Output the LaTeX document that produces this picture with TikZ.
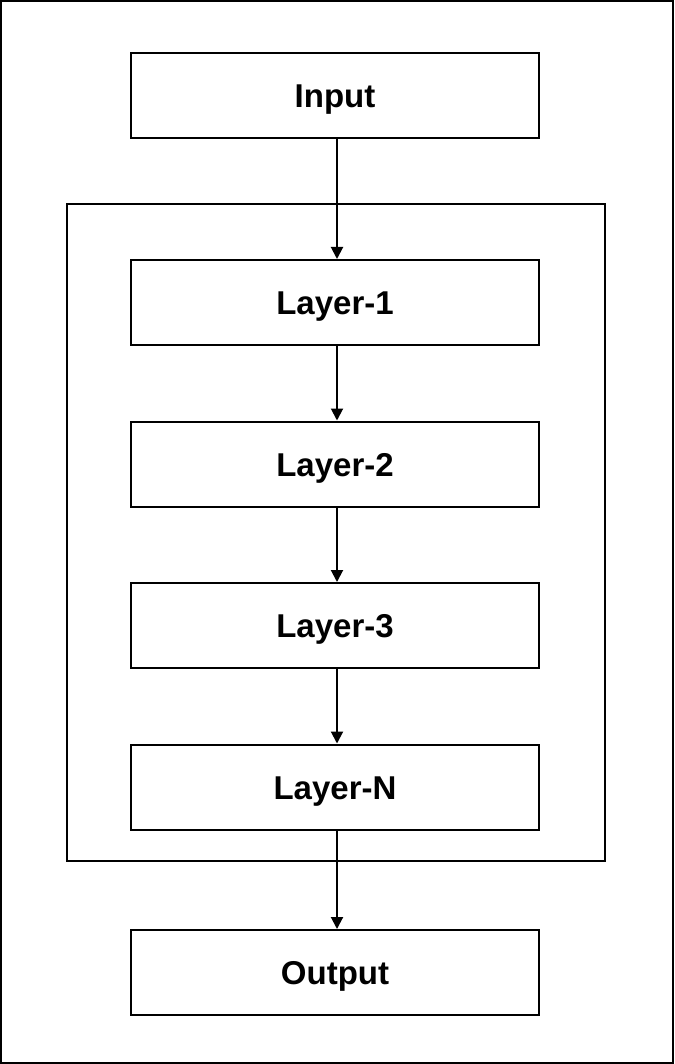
\documentclass[tikz,border=0pt]{standalone}
\usepackage{fontspec}
\setmainfont{Liberation Sans}
\usetikzlibrary{positioning,arrows.meta}

\begin{document}
\begin{tikzpicture}[
  x=1pt, y=-1pt,
  font=\bfseries\fontsize{33}{36}\selectfont,
  blk/.style   = {draw, line width=2pt, minimum width=408pt,
                  minimum height=85pt, inner sep=0pt,
                  text height=24pt, text depth=0pt},
  frame/.style = {draw, line width=2pt},
  flow/.style  = {-{Triangle[length=12pt,width=12pt]}, line width=2pt},
]

%% ==== page border ==========================================================
\draw[frame] (1,1) rectangle (673,1063);

%% ==== stacked layers inside the frame ======================================
\draw[frame] (67,204) rectangle (605,861);

%% ==== blocks ===============================================================
\node[blk] (input)  at (335,95.5)  {Input};
\node[blk] (layer1) at (335,302.5) {Layer-1};
\node[blk] (layer2) at (335,464)   {Layer-2};
\node[blk] (layer3) at (335,625.5) {Layer-3};
\node[blk] (layerN) at (335,787)   {Layer-N};
\node[blk] (output) at (335,972.5) {Output};

%% ==== flow =================================================================
\draw[flow] ([xshift=2pt]input.south)  -- ([xshift=2pt]layer1.north);
\draw[flow] ([xshift=2pt]layer1.south) -- ([xshift=2pt]layer2.north);
\draw[flow] ([xshift=2pt]layer2.south) -- ([xshift=2pt]layer3.north);
\draw[flow] ([xshift=2pt]layer3.south) -- ([xshift=2pt]layerN.north);
\draw[flow] ([xshift=2pt]layerN.south) -- ([xshift=2pt]output.north);

\end{tikzpicture}
\end{document}
